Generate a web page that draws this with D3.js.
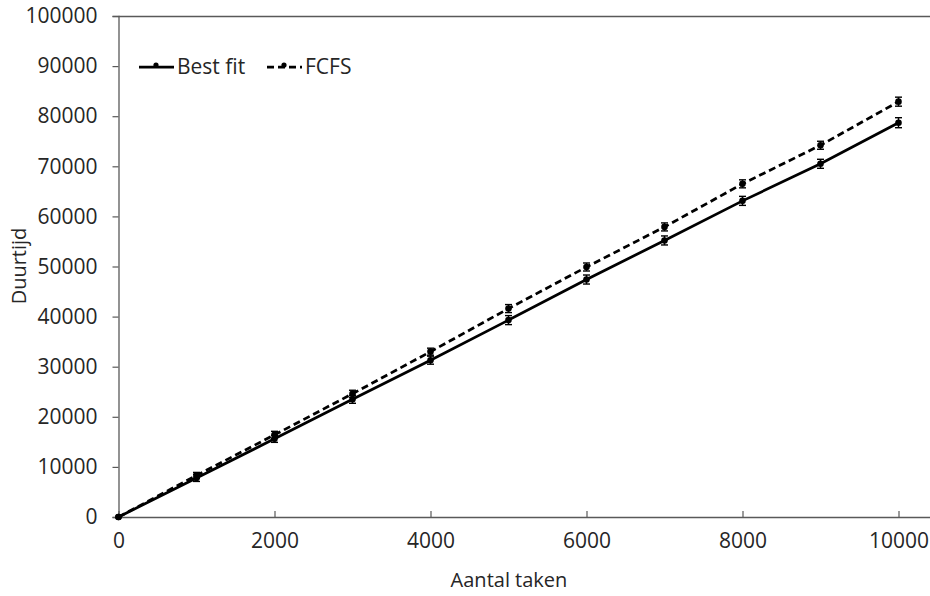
<!DOCTYPE html>
<html>
<head>
<meta charset="utf-8">
<script src="https://cdn.jsdelivr.net/npm/d3@7"></script>
<style>
  html, body { margin: 0; padding: 0; background: #fff; }
  svg text { font-family: "Open Sans", "Noto Sans", sans-serif; fill: #262626; }
</style>
</head>
<body>
<svg id="chart" width="930" height="596"></svg>
<script>
// Number of tasks on the x axis
const taskCounts = [0, 1000, 2000, 3000, 4000, 5000, 6000, 7000, 8000, 9000, 10000];
// Mean duration per scheduling strategy
const bestFit = [0, 7800, 15600, 23500, 31300, 39300, 47400, 55200, 63100, 70500, 78700];
const fcfs    = [0, 8300, 16400, 24600, 33000, 41600, 49900, 57900, 66500, 74200, 82900];
// Error margins (±) per point
const bestFitErr = [0, 700, 700, 800, 800, 900, 900, 900, 900, 900, 1000];
const fcfsErr    = [0, 600, 700, 700, 700, 800, 800, 800, 800, 800, 900];

const xTicks = [0, 2000, 4000, 6000, 8000, 10000];
const yTicks = [0, 10000, 20000, 30000, 40000, 50000, 60000, 70000, 80000, 90000, 100000];

const seriesNames = ["Best fit", "FCFS"];

const svg = d3.select("#chart");
const plotLeft = 118.5, plotRight = 931, plotTop = 16, plotBottom = 517;

const x = d3.scaleLinear().domain([0, 10000]).range([plotLeft, 898.5]);
const y = d3.scaleLinear().domain([0, 100000]).range([plotBottom, plotTop]);

const axisColor = "#595959";

// plot frame: top border
svg.append("line")
  .attr("x1", plotLeft).attr("x2", plotRight).attr("y1", plotTop + 0.5).attr("y2", plotTop + 0.5)
  .attr("stroke", axisColor).attr("stroke-width", 1.3);

// y axis
const yAxis = svg.append("g")
  .attr("transform", `translate(${plotLeft},0)`)
  .call(d3.axisLeft(y).tickValues(yTicks).tickSize(6).tickPadding(15).tickFormat(d3.format("d")));
yAxis.select(".domain").attr("stroke", axisColor).attr("stroke-width", 1.3);
yAxis.selectAll(".tick line").attr("stroke", axisColor).attr("stroke-width", 1.2);
yAxis.selectAll("text").style("font-size", "21px").attr("fill", "#262626");

// x axis with inward ticks
const xAxis = svg.append("g")
  .attr("transform", `translate(0,${plotBottom})`)
  .call(d3.axisBottom(x).tickValues(xTicks).tickSizeInner(-6).tickSizeOuter(0).tickPadding(16).tickFormat(d3.format("d")));
xAxis.select(".domain").attr("d", `M${plotLeft},0.5H${plotRight}`).attr("stroke", axisColor).attr("stroke-width", 1.3);
xAxis.selectAll(".tick line").attr("stroke", axisColor).attr("stroke-width", 1.2);
xAxis.selectAll("text").style("font-size", "21px").attr("fill", "#262626");

// axis titles
svg.append("text")
  .attr("x", 509).attr("y", 587)
  .attr("text-anchor", "middle")
  .style("font-size", "20px")
  .text("Aantal taken");
svg.append("text")
  .attr("transform", "translate(26,266) rotate(-90)")
  .attr("text-anchor", "middle")
  .style("font-size", "20px")
  .text("Duurtijd");

const series = [
  { name: seriesNames[0], values: bestFit, err: bestFitErr, dash: null },
  { name: seriesNames[1], values: fcfs, err: fcfsErr, dash: "7,4" }
];

const line = d3.line().x(d => x(d[0])).y(d => y(d[1]));

series.forEach(s => {
  const pts = taskCounts.map((t, i) => [t, s.values[i], s.err[i]]);
  const g = svg.append("g");
  g.append("path")
    .datum(pts)
    .attr("d", line)
    .attr("fill", "none")
    .attr("stroke", "#000")
    .attr("stroke-width", 2.75)
    .attr("stroke-dasharray", s.dash);
  // error bars
  const eb = g.selectAll(".err").data(pts.filter(p => p[2] > 0)).enter().append("g");
  eb.append("line")
    .attr("x1", d => x(d[0])).attr("x2", d => x(d[0]))
    .attr("y1", d => y(d[1] - d[2])).attr("y2", d => y(d[1] + d[2]))
    .attr("stroke", "#000").attr("stroke-width", 1.4);
  [-1, 1].forEach(sign => {
    eb.append("line")
      .attr("x1", d => x(d[0]) - 3.5).attr("x2", d => x(d[0]) + 3.5)
      .attr("y1", d => y(d[1] + sign * d[2])).attr("y2", d => y(d[1] + sign * d[2]))
      .attr("stroke", "#000").attr("stroke-width", 1.4);
  });
  // markers
  g.selectAll("circle").data(pts).enter().append("circle")
    .attr("cx", d => x(d[0])).attr("cy", d => y(d[1]))
    .attr("r", 3.3).attr("fill", "#000");
});

// legend
const legend = svg.append("g");
const legendItems = [
  { name: seriesNames[0], dash: null, x0: 139 },
  { name: seriesNames[1], dash: "7,4", x0: 267 }
];
legendItems.forEach(it => {
  legend.append("line")
    .attr("x1", it.x0).attr("x2", it.x0 + 35)
    .attr("y1", 67).attr("y2", 67)
    .attr("stroke", "#000").attr("stroke-width", 2.75)
    .attr("stroke-dasharray", it.dash);
  legend.append("circle")
    .attr("cx", it.x0 + 17).attr("cy", 65).attr("r", 2.6).attr("fill", "#000");
  legend.append("text")
    .attr("x", it.x0 + 38).attr("y", 74)
    .style("font-size", "21px")
    .text(it.name);
});
</script>
</body>
</html>
